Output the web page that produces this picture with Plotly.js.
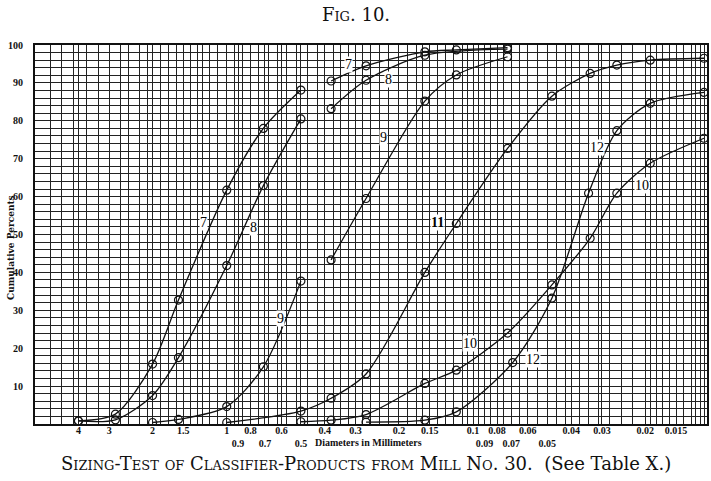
<!DOCTYPE html>
<html><head><meta charset="utf-8">
<script src="https://cdn.plot.ly/plotly-3.0.1.min.js"></script>
<style>html,body{margin:0;padding:0;background:#fff}</style>
</head><body><div id="chart" style="width:711px;height:481px"></div>
<script>
// Axis tick labels
const tickValsX = [4,3,2,1.5,1,0.9,0.8,0.7,0.6,0.5,0.4,0.3,0.2,0.15,0.1,0.09,0.08,0.07,0.06,0.05,0.04,0.03,0.02,0.015];
const tickTextX = ['4','3','2','1.5','1','<br>0.9','0.8','<br>0.7','0.6','<br>0.5','0.4','0.3','0.2','0.15','0.1','<br>0.09','0.08','<br>0.07','0.06','<br>0.05','0.04','0.03','0.02','0.015'];
const gridValsX = [5.2,4.7,4.2,3.7,3.3,3,2.7,2.5,2.25,2.1,2,1.85,1.73,1.6,1.5,1.4,1.32,1.25,1.17,1.09,1,0.93,0.86,0.8,0.74,0.68,0.62,0.57,0.52,0.47,0.43,0.4,0.37,0.345,0.32,0.3,0.28,0.26,0.24,0.22,0.2,0.185,0.17,0.16,0.15,0.14,0.13,0.12,0.11,0.105,0.1,0.095,0.09,0.085,0.08,0.075,0.07,0.065,0.06,0.055,0.05,0.046,0.042,0.04,0.037,0.034,0.031,0.028,0.025,0.0225,0.02,0.019,0.018,0.017,0.016,0.015,0.014,0.013,0.0125,0.012,0.0115];
const tickValsY = [10,20,30,40,50,60,70,80,90,100];
const tickTextY = ['10','20','30','40','50','60','70','80','90','100'];

// Series (diameter in mm, cumulative percent)
const d7a = [4, 2.83, 2, 1.57, 1, 0.71, 0.5];
const p7a = [0.8, 2.6, 15.8, 32.7, 61.7, 78.0, 88.1];
const d8a = [4, 2.83, 2, 1.57, 1, 0.71, 0.5];
const p8a = [0.8, 1.1, 7.5, 17.5, 41.8, 62.9, 80.5];
const d9a = [2, 1.57, 1, 0.71, 0.5];
const p9a = [0.4, 1.2, 4.6, 15.1, 37.7];
const d7b = [0.377, 0.272, 0.157, 0.117, 0.0725];
const p7b = [90.5, 94.5, 98.2, 98.7, 99.3];
const d8b = [0.377, 0.272, 0.157, 0.0725];
const p8b = [83.2, 90.7, 97.3, 98.9];
const d9b = [0.377, 0.272, 0.157, 0.117, 0.0725];
const p9b = [43.3, 59.5, 85.2, 92.1, 96.9];
const d10 = [0.5, 0.377, 0.272, 0.157, 0.117, 0.0725, 0.0479, 0.0335, 0.0261, 0.0191, 0.01156];
const p10 = [0.6, 1.0, 2.5, 10.7, 14.2, 24.0, 36.7, 49.0, 60.9, 68.8, 75.4];
const d11 = [1, 0.5, 0.377, 0.272, 0.157, 0.117, 0.0725, 0.0479, 0.0335, 0.0261, 0.0191, 0.01156];
const p11 = [0.4, 3.4, 6.8, 13.2, 40.0, 52.9, 72.7, 86.5, 92.5, 94.7, 96.0, 96.5];
const d12 = [0.272, 0.157, 0.117, 0.0691, 0.0479, 0.034, 0.0261, 0.0191, 0.01156];
const p12 = [0.5, 1.0, 3.2, 16.2, 33.2, 60.9, 77.4, 84.6, 87.5];

const serif = 'Liberation Serif, Times New Roman, serif';
const serif2 = 'DejaVu Serif, Liberation Serif, serif';
function tr(x, y){
  return {x:x, y:y, type:'scatter', mode:'lines+markers', showlegend:false, hoverinfo:'skip',
    line:{color:'#111', width:1.3, shape:'spline', smoothing:0.8},
    marker:{symbol:'circle-open', size:8, color:'#111', line:{width:1.2, color:'#111'}}};
}
const data = [tr(d7a,p7a), tr(d8a,p8a), tr(d9a,p9a), tr(d7b,p7b), tr(d8b,p8b), tr(d9b,p9b), tr(d10,p10), tr(d11,p11), tr(d12,p12)];

// label placement helpers (pixel -> paper)
const L = 35, R = 707, T = 45, B = 424;
const px = v => (v - L) / (R - L);
const py = v => (B - v) / (B - T);
function lab(text, x, y, size){
  return {text:text, x:px(x), y:py(y), xref:'paper', yref:'paper', showarrow:false,
    font:{family:serif, size:size||13, color:'#000'}, xanchor:'center', yanchor:'middle', bgcolor:'#fff', borderpad:0};
}
const curveLabels = [
  ['7',203,222],['8',253,227],['9',280,318],['7',348,64],['8',388,80],['9',383,137],
  ['<b>11</b>',437,222],['12',597,147],['10',642,185],['10',470,343],['12',533,359]
];
const annotations = curveLabels.map(c => lab(c[0], c[1], c[2], 14));
annotations.push({text:'Fig. 10.', x:px(356), y:py(15), xref:'paper', yref:'paper', showarrow:false,
  font:{family:serif2, size:18, color:'#111', variant:'small-caps'}, xanchor:'center', yanchor:'middle'});
annotations.push({text:'Sizing-Test of Classifier-Products from Mill No. 30.  <span style="font-variant:normal">(See Table X.)</span>', x:px(366), y:py(463), xref:'paper', yref:'paper', showarrow:false,
  font:{family:serif2, size:18, color:'#111', variant:'small-caps'}, xanchor:'center', yanchor:'middle'});
annotations.push({text:'Diameters in Millimeters', x:px(368), y:py(442), xref:'paper', yref:'paper', showarrow:false,
  font:{family:serif, size:10, color:'#111', weight:'bold'}, xanchor:'center', yanchor:'middle'});
annotations.push({text:'Cumulative Percents', x:px(11), y:py(248), xref:'paper', yref:'paper', showarrow:false, textangle:-90,
  font:{family:serif2, size:9, color:'#111', weight:'bold'}, xanchor:'center', yanchor:'middle'});

const layout = {
  width:711, height:481,
  margin:{l:L, r:711-R, t:T, b:481-B},
  paper_bgcolor:'#fff', plot_bgcolor:'#fff',
  xaxis:{type:'log', range:[Math.log10(6), Math.log10(0.01124)], tickmode:'array', tickvals:tickValsX, ticktext:tickTextX,
    tickangle:0, showgrid:true, gridcolor:'#222', gridwidth:1, zeroline:false, ticks:'', ticklabelstandoff:-4,
    showline:true, linecolor:'#111', linewidth:2, mirror:true,
    tickfont:{family:serif, size:10, color:'#111', weight:'bold'},
    minor:{tickmode:'array', tickvals:gridValsX, showgrid:true, gridcolor:'#222', gridwidth:1, ticks:''}},
  yaxis:{range:[0,100], tickmode:'array', tickvals:tickValsY, ticktext:tickTextY,
    showgrid:true, gridcolor:'#222', gridwidth:1, zeroline:false, ticks:'', ticklabelstandoff:8,
    showline:true, linecolor:'#111', linewidth:2, mirror:true,
    tickfont:{family:serif, size:10, color:'#111', weight:'bold'},
    minor:{dtick:2, showgrid:true, gridcolor:'#222', gridwidth:1, ticks:''}},
  annotations:annotations
};
Plotly.newPlot('chart', data, layout, {staticPlot:true});
</script>
</body></html>
